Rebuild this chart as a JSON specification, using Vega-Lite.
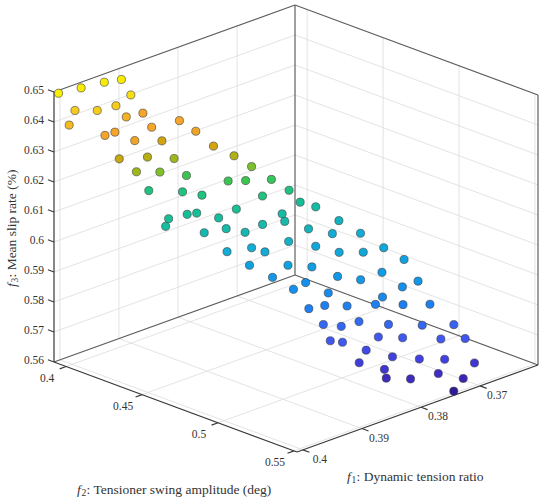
{
  "$schema": "https://vega.github.io/schema/vega-lite/v6.json",
  "width": 550,
  "height": 504,
  "autosize": {"type": "none"},
  "padding": 0,
  "background": "white",
  "config": {"view": {"stroke": null}},
  "datasets": {
    "pts": [
      {"f1": 0.4009, "f2": 0.3946, "f3": 0.65},
      {"f1": 0.3971, "f2": 0.3947, "f3": 0.6491},
      {"f1": 0.3938, "f2": 0.3971, "f3": 0.6491},
      {"f1": 0.3917, "f2": 0.4002, "f3": 0.6491},
      {"f1": 0.3926, "f2": 0.4099, "f3": 0.6464},
      {"f1": 0.3991, "f2": 0.3984, "f3": 0.6437},
      {"f1": 0.3972, "f2": 0.4057, "f3": 0.6437},
      {"f1": 0.3945, "f2": 0.4075, "f3": 0.6437},
      {"f1": 0.4009, "f2": 0.4016, "f3": 0.6407},
      {"f1": 0.3937, "f2": 0.4112, "f3": 0.6401},
      {"f1": 0.3905, "f2": 0.4097, "f3": 0.6388},
      {"f1": 0.3989, "f2": 0.4174, "f3": 0.6388},
      {"f1": 0.3973, "f2": 0.4177, "f3": 0.6388},
      {"f1": 0.393, "f2": 0.4252, "f3": 0.6388},
      {"f1": 0.3891, "f2": 0.4283, "f3": 0.6388},
      {"f1": 0.3898, "f2": 0.4418, "f3": 0.6383},
      {"f1": 0.3972, "f2": 0.4304, "f3": 0.6383},
      {"f1": 0.3934, "f2": 0.4335, "f3": 0.6361},
      {"f1": 0.3902, "f2": 0.455, "f3": 0.6361},
      {"f1": 0.4006, "f2": 0.4334, "f3": 0.6352},
      {"f1": 0.3968, "f2": 0.4372, "f3": 0.6338},
      {"f1": 0.3936, "f2": 0.4423, "f3": 0.632},
      {"f1": 0.3888, "f2": 0.4631, "f3": 0.6334},
      {"f1": 0.3999, "f2": 0.442, "f3": 0.632},
      {"f1": 0.3967, "f2": 0.445, "f3": 0.6302},
      {"f1": 0.3921, "f2": 0.4446, "f3": 0.6257},
      {"f1": 0.3873, "f2": 0.4688, "f3": 0.6298},
      {"f1": 0.3898, "f2": 0.4631, "f3": 0.6257},
      {"f1": 0.3882, "f2": 0.4684, "f3": 0.6257},
      {"f1": 0.3851, "f2": 0.4733, "f3": 0.6248},
      {"f1": 0.3836, "f2": 0.4791, "f3": 0.6212},
      {"f1": 0.3957, "f2": 0.4338, "f3": 0.6212},
      {"f1": 0.3931, "f2": 0.4459, "f3": 0.6212},
      {"f1": 0.3922, "f2": 0.4552, "f3": 0.6212},
      {"f1": 0.3872, "f2": 0.4756, "f3": 0.6212},
      {"f1": 0.3829, "f2": 0.4837, "f3": 0.6176},
      {"f1": 0.398, "f2": 0.4558, "f3": 0.6176},
      {"f1": 0.3994, "f2": 0.4593, "f3": 0.6167},
      {"f1": 0.3954, "f2": 0.4579, "f3": 0.6176},
      {"f1": 0.3943, "f2": 0.4599, "f3": 0.6176},
      {"f1": 0.3929, "f2": 0.4689, "f3": 0.6167},
      {"f1": 0.3906, "f2": 0.4716, "f3": 0.6185},
      {"f1": 0.3859, "f2": 0.4835, "f3": 0.6158},
      {"f1": 0.3868, "f2": 0.4887, "f3": 0.6149},
      {"f1": 0.3957, "f2": 0.4703, "f3": 0.614},
      {"f1": 0.3935, "f2": 0.4762, "f3": 0.6149},
      {"f1": 0.3921, "f2": 0.4832, "f3": 0.614},
      {"f1": 0.3894, "f2": 0.4842, "f3": 0.6149},
      {"f1": 0.3886, "f2": 0.4983, "f3": 0.6113},
      {"f1": 0.395, "f2": 0.4826, "f3": 0.6095},
      {"f1": 0.392, "f2": 0.4871, "f3": 0.6095},
      {"f1": 0.3918, "f2": 0.4951, "f3": 0.6095},
      {"f1": 0.3931, "f2": 0.49, "f3": 0.605},
      {"f1": 0.3898, "f2": 0.5025, "f3": 0.605},
      {"f1": 0.3908, "f2": 0.4962, "f3": 0.6005},
      {"f1": 0.3899, "f2": 0.5065, "f3": 0.5978},
      {"f1": 0.3814, "f2": 0.4881, "f3": 0.6158},
      {"f1": 0.3801, "f2": 0.4983, "f3": 0.6122},
      {"f1": 0.3846, "f2": 0.4958, "f3": 0.6122},
      {"f1": 0.3818, "f2": 0.5006, "f3": 0.6095},
      {"f1": 0.3793, "f2": 0.5094, "f3": 0.6095},
      {"f1": 0.3849, "f2": 0.5017, "f3": 0.6077},
      {"f1": 0.3843, "f2": 0.5148, "f3": 0.6077},
      {"f1": 0.3822, "f2": 0.5225, "f3": 0.6077},
      {"f1": 0.3794, "f2": 0.5251, "f3": 0.6077},
      {"f1": 0.3785, "f2": 0.535, "f3": 0.605},
      {"f1": 0.3875, "f2": 0.5093, "f3": 0.6041},
      {"f1": 0.385, "f2": 0.5165, "f3": 0.6005},
      {"f1": 0.3838, "f2": 0.527, "f3": 0.6005},
      {"f1": 0.3815, "f2": 0.5321, "f3": 0.6023},
      {"f1": 0.3792, "f2": 0.5469, "f3": 0.6005},
      {"f1": 0.3873, "f2": 0.5044, "f3": 0.5978},
      {"f1": 0.3865, "f2": 0.5162, "f3": 0.596},
      {"f1": 0.38, "f2": 0.5397, "f3": 0.5978},
      {"f1": 0.3828, "f2": 0.5375, "f3": 0.596},
      {"f1": 0.3893, "f2": 0.5143, "f3": 0.5924},
      {"f1": 0.3872, "f2": 0.5166, "f3": 0.5924},
      {"f1": 0.3854, "f2": 0.5243, "f3": 0.5924},
      {"f1": 0.3826, "f2": 0.5321, "f3": 0.5924},
      {"f1": 0.3803, "f2": 0.5413, "f3": 0.5924},
      {"f1": 0.3779, "f2": 0.5497, "f3": 0.5924},
      {"f1": 0.3861, "f2": 0.5114, "f3": 0.5843},
      {"f1": 0.385, "f2": 0.5189, "f3": 0.5843},
      {"f1": 0.383, "f2": 0.5228, "f3": 0.5852},
      {"f1": 0.3805, "f2": 0.5325, "f3": 0.5843},
      {"f1": 0.3778, "f2": 0.5442, "f3": 0.5843},
      {"f1": 0.3737, "f2": 0.5491, "f3": 0.5825},
      {"f1": 0.3849, "f2": 0.5113, "f3": 0.578},
      {"f1": 0.3842, "f2": 0.5166, "f3": 0.578},
      {"f1": 0.3799, "f2": 0.5235, "f3": 0.578},
      {"f1": 0.378, "f2": 0.5321, "f3": 0.578},
      {"f1": 0.375, "f2": 0.5456, "f3": 0.578},
      {"f1": 0.3722, "f2": 0.5507, "f3": 0.5771},
      {"f1": 0.3815, "f2": 0.5217, "f3": 0.5744},
      {"f1": 0.3789, "f2": 0.5289, "f3": 0.5717},
      {"f1": 0.3771, "f2": 0.5396, "f3": 0.5717},
      {"f1": 0.375, "f2": 0.5481, "f3": 0.5717},
      {"f1": 0.3708, "f2": 0.5514, "f3": 0.5681},
      {"f1": 0.3825, "f2": 0.521, "f3": 0.5708},
      {"f1": 0.38, "f2": 0.5279, "f3": 0.5681},
      {"f1": 0.38, "f2": 0.5291, "f3": 0.5654},
      {"f1": 0.3781, "f2": 0.5377, "f3": 0.5654},
      {"f1": 0.3751, "f2": 0.5443, "f3": 0.5663},
      {"f1": 0.3725, "f2": 0.5506, "f3": 0.564},
      {"f1": 0.3741, "f2": 0.5506, "f3": 0.5609}
    ],
    "lines": [
      {"kind": "grid", "a1": 0.401, "a2": 0.4, "a3": 0.56, "b1": 0.3602, "b2": 0.4, "b3": 0.56},
      {"kind": "grid", "a1": 0.401, "a2": 0.45, "a3": 0.56, "b1": 0.3602, "b2": 0.45, "b3": 0.56},
      {"kind": "grid", "a1": 0.401, "a2": 0.5, "a3": 0.56, "b1": 0.3602, "b2": 0.5, "b3": 0.56},
      {"kind": "grid", "a1": 0.401, "a2": 0.55, "a3": 0.56, "b1": 0.3602, "b2": 0.55, "b3": 0.56},
      {"kind": "grid", "a1": 0.37, "a2": 0.392, "a3": 0.56, "b1": 0.37, "b2": 0.552, "b3": 0.56},
      {"kind": "grid", "a1": 0.38, "a2": 0.392, "a3": 0.56, "b1": 0.38, "b2": 0.552, "b3": 0.56},
      {"kind": "grid", "a1": 0.39, "a2": 0.392, "a3": 0.56, "b1": 0.39, "b2": 0.552, "b3": 0.56},
      {"kind": "grid", "a1": 0.4, "a2": 0.392, "a3": 0.56, "b1": 0.4, "b2": 0.552, "b3": 0.56},
      {"kind": "grid", "a1": 0.37, "a2": 0.392, "a3": 0.56, "b1": 0.37, "b2": 0.392, "b3": 0.65},
      {"kind": "grid", "a1": 0.38, "a2": 0.392, "a3": 0.56, "b1": 0.38, "b2": 0.392, "b3": 0.65},
      {"kind": "grid", "a1": 0.39, "a2": 0.392, "a3": 0.56, "b1": 0.39, "b2": 0.392, "b3": 0.65},
      {"kind": "grid", "a1": 0.4, "a2": 0.392, "a3": 0.56, "b1": 0.4, "b2": 0.392, "b3": 0.65},
      {"kind": "grid", "a1": 0.3602, "a2": 0.4, "a3": 0.56, "b1": 0.3602, "b2": 0.4, "b3": 0.65},
      {"kind": "grid", "a1": 0.3602, "a2": 0.45, "a3": 0.56, "b1": 0.3602, "b2": 0.45, "b3": 0.65},
      {"kind": "grid", "a1": 0.3602, "a2": 0.5, "a3": 0.56, "b1": 0.3602, "b2": 0.5, "b3": 0.65},
      {"kind": "grid", "a1": 0.3602, "a2": 0.55, "a3": 0.56, "b1": 0.3602, "b2": 0.55, "b3": 0.65},
      {"kind": "grid", "a1": 0.401, "a2": 0.392, "a3": 0.57, "b1": 0.3602, "b2": 0.392, "b3": 0.57},
      {"kind": "grid", "a1": 0.401, "a2": 0.392, "a3": 0.58, "b1": 0.3602, "b2": 0.392, "b3": 0.58},
      {"kind": "grid", "a1": 0.401, "a2": 0.392, "a3": 0.59, "b1": 0.3602, "b2": 0.392, "b3": 0.59},
      {"kind": "grid", "a1": 0.401, "a2": 0.392, "a3": 0.6, "b1": 0.3602, "b2": 0.392, "b3": 0.6},
      {"kind": "grid", "a1": 0.401, "a2": 0.392, "a3": 0.61, "b1": 0.3602, "b2": 0.392, "b3": 0.61},
      {"kind": "grid", "a1": 0.401, "a2": 0.392, "a3": 0.62, "b1": 0.3602, "b2": 0.392, "b3": 0.62},
      {"kind": "grid", "a1": 0.401, "a2": 0.392, "a3": 0.63, "b1": 0.3602, "b2": 0.392, "b3": 0.63},
      {"kind": "grid", "a1": 0.401, "a2": 0.392, "a3": 0.64, "b1": 0.3602, "b2": 0.392, "b3": 0.64},
      {"kind": "grid", "a1": 0.3602, "a2": 0.392, "a3": 0.57, "b1": 0.3602, "b2": 0.552, "b3": 0.57},
      {"kind": "grid", "a1": 0.3602, "a2": 0.392, "a3": 0.58, "b1": 0.3602, "b2": 0.552, "b3": 0.58},
      {"kind": "grid", "a1": 0.3602, "a2": 0.392, "a3": 0.59, "b1": 0.3602, "b2": 0.552, "b3": 0.59},
      {"kind": "grid", "a1": 0.3602, "a2": 0.392, "a3": 0.6, "b1": 0.3602, "b2": 0.552, "b3": 0.6},
      {"kind": "grid", "a1": 0.3602, "a2": 0.392, "a3": 0.61, "b1": 0.3602, "b2": 0.552, "b3": 0.61},
      {"kind": "grid", "a1": 0.3602, "a2": 0.392, "a3": 0.62, "b1": 0.3602, "b2": 0.552, "b3": 0.62},
      {"kind": "grid", "a1": 0.3602, "a2": 0.392, "a3": 0.63, "b1": 0.3602, "b2": 0.552, "b3": 0.63},
      {"kind": "grid", "a1": 0.3602, "a2": 0.392, "a3": 0.64, "b1": 0.3602, "b2": 0.552, "b3": 0.64},
      {"kind": "box", "a1": 0.401, "a2": 0.392, "a3": 0.65, "b1": 0.3602, "b2": 0.392, "b3": 0.65},
      {"kind": "box", "a1": 0.3602, "a2": 0.392, "a3": 0.65, "b1": 0.3602, "b2": 0.552, "b3": 0.65},
      {"kind": "box", "a1": 0.3602, "a2": 0.392, "a3": 0.56, "b1": 0.3602, "b2": 0.392, "b3": 0.65},
      {"kind": "box", "a1": 0.3602, "a2": 0.552, "a3": 0.56, "b1": 0.3602, "b2": 0.552, "b3": 0.65},
      {"kind": "box", "a1": 0.401, "a2": 0.392, "a3": 0.56, "b1": 0.3602, "b2": 0.392, "b3": 0.56},
      {"kind": "box", "a1": 0.3602, "a2": 0.392, "a3": 0.56, "b1": 0.3602, "b2": 0.552, "b3": 0.56},
      {"kind": "zaxis", "a1": 0.401, "a2": 0.392, "a3": 0.56, "b1": 0.401, "b2": 0.392, "b3": 0.65},
      {"kind": "axis", "a1": 0.401, "a2": 0.392, "a3": 0.56, "b1": 0.401, "b2": 0.552, "b3": 0.56},
      {"kind": "axis", "a1": 0.401, "a2": 0.552, "a3": 0.56, "b1": 0.3602, "b2": 0.552, "b3": 0.56},
      {"kind": "axis", "a1": 0.401, "a2": 0.392, "a3": 0.56, "b1": 0.401, "b2": 0.388, "b3": 0.56},
      {"kind": "axis", "a1": 0.401, "a2": 0.392, "a3": 0.57, "b1": 0.401, "b2": 0.388, "b3": 0.57},
      {"kind": "axis", "a1": 0.401, "a2": 0.392, "a3": 0.58, "b1": 0.401, "b2": 0.388, "b3": 0.58},
      {"kind": "axis", "a1": 0.401, "a2": 0.392, "a3": 0.59, "b1": 0.401, "b2": 0.388, "b3": 0.59},
      {"kind": "axis", "a1": 0.401, "a2": 0.392, "a3": 0.6, "b1": 0.401, "b2": 0.388, "b3": 0.6},
      {"kind": "axis", "a1": 0.401, "a2": 0.392, "a3": 0.61, "b1": 0.401, "b2": 0.388, "b3": 0.61},
      {"kind": "axis", "a1": 0.401, "a2": 0.392, "a3": 0.62, "b1": 0.401, "b2": 0.388, "b3": 0.62},
      {"kind": "axis", "a1": 0.401, "a2": 0.392, "a3": 0.63, "b1": 0.401, "b2": 0.388, "b3": 0.63},
      {"kind": "axis", "a1": 0.401, "a2": 0.392, "a3": 0.64, "b1": 0.401, "b2": 0.388, "b3": 0.64},
      {"kind": "axis", "a1": 0.401, "a2": 0.392, "a3": 0.65, "b1": 0.401, "b2": 0.388, "b3": 0.65},
      {"kind": "axis", "a1": 0.401, "a2": 0.4, "a3": 0.56, "b1": 0.4021, "b2": 0.4, "b3": 0.56},
      {"kind": "axis", "a1": 0.401, "a2": 0.45, "a3": 0.56, "b1": 0.4021, "b2": 0.45, "b3": 0.56},
      {"kind": "axis", "a1": 0.401, "a2": 0.5, "a3": 0.56, "b1": 0.4021, "b2": 0.5, "b3": 0.56},
      {"kind": "axis", "a1": 0.401, "a2": 0.55, "a3": 0.56, "b1": 0.4021, "b2": 0.55, "b3": 0.56},
      {"kind": "axis", "a1": 0.37, "a2": 0.552, "a3": 0.56, "b1": 0.37, "b2": 0.5563, "b3": 0.56},
      {"kind": "axis", "a1": 0.38, "a2": 0.552, "a3": 0.56, "b1": 0.38, "b2": 0.5563, "b3": 0.56},
      {"kind": "axis", "a1": 0.39, "a2": 0.552, "a3": 0.56, "b1": 0.39, "b2": 0.5563, "b3": 0.56},
      {"kind": "axis", "a1": 0.4, "a2": 0.552, "a3": 0.56, "b1": 0.4, "b2": 0.5563, "b3": 0.56}
    ],
    "labels": [
      {"axis": "z", "f1": 0.401, "f2": 0.392, "f3": 0.56, "label": "0.56"},
      {"axis": "z", "f1": 0.401, "f2": 0.392, "f3": 0.57, "label": "0.57"},
      {"axis": "z", "f1": 0.401, "f2": 0.392, "f3": 0.58, "label": "0.58"},
      {"axis": "z", "f1": 0.401, "f2": 0.392, "f3": 0.59, "label": "0.59"},
      {"axis": "z", "f1": 0.401, "f2": 0.392, "f3": 0.6, "label": "0.6"},
      {"axis": "z", "f1": 0.401, "f2": 0.392, "f3": 0.61, "label": "0.61"},
      {"axis": "z", "f1": 0.401, "f2": 0.392, "f3": 0.62, "label": "0.62"},
      {"axis": "z", "f1": 0.401, "f2": 0.392, "f3": 0.63, "label": "0.63"},
      {"axis": "z", "f1": 0.401, "f2": 0.392, "f3": 0.64, "label": "0.64"},
      {"axis": "z", "f1": 0.401, "f2": 0.392, "f3": 0.65, "label": "0.65"},
      {"axis": "f2", "f1": 0.401, "f2": 0.4, "f3": 0.56, "label": "0.4"},
      {"axis": "f2", "f1": 0.401, "f2": 0.45, "f3": 0.56, "label": "0.45"},
      {"axis": "f2", "f1": 0.401, "f2": 0.5, "f3": 0.56, "label": "0.5"},
      {"axis": "f2", "f1": 0.401, "f2": 0.55, "f3": 0.56, "label": "0.55"},
      {"axis": "f1", "f1": 0.37, "f2": 0.552, "f3": 0.56, "label": "0.37"},
      {"axis": "f1", "f1": 0.38, "f2": 0.552, "f3": 0.56, "label": "0.38"},
      {"axis": "f1", "f1": 0.39, "f2": 0.552, "f3": 0.56, "label": "0.39"},
      {"axis": "f1", "f1": 0.4, "f2": 0.552, "f3": 0.56, "label": "0.4"},
      {"axis": "t3", "f1": 0.401, "f2": 0.392, "f3": 0.585, "sub": "3", "label": ": Mean slip rate (%)"},
      {"axis": "t2", "f1": 0.401, "f2": 0.472, "f3": 0.56, "sub": "2", "label": ": Tensioner swing amplitude (deg)"},
      {"axis": "t1", "f1": 0.3806, "f2": 0.552, "f3": 0.56, "sub": "1", "label": ": Dynamic tension ratio"}
    ]
  },
  "layer": [
    {
      "data": {"name": "lines"},
      "transform": [
        {"filter": "datum.kind == 'grid'"},
        {"calculate": "243*(datum.a2-0.392)/0.16 + 241*(0.401-datum.a1)/0.0408", "as": "xa"},
        {"calculate": "270*(datum.a3-0.56)/0.09 + 87*(0.401-datum.a1)/0.0408 - 90*(datum.a2-0.392)/0.16", "as": "ya"},
        {"calculate": "243*(datum.b2-0.392)/0.16 + 241*(0.401-datum.b1)/0.0408", "as": "xb"},
        {"calculate": "270*(datum.b3-0.56)/0.09 + 87*(0.401-datum.b1)/0.0408 - 90*(datum.b2-0.392)/0.16", "as": "yb"}
      ],
      "mark": {"type": "rule", "color": "#dcdcdc", "strokeWidth": 0.8},
      "encoding": {
        "x": {"field": "xa", "type": "quantitative", "scale": {"domain": [-54, 496], "nice": false, "zero": false}, "axis": null},
        "y": {"field": "ya", "type": "quantitative", "scale": {"domain": [-142, 362], "nice": false, "zero": false}, "axis": null},
        "x2": {"field": "xb"},
        "y2": {"field": "yb"}
      }
    },
    {
      "data": {"name": "lines"},
      "transform": [
        {"filter": "datum.kind == 'box'"},
        {"calculate": "243*(datum.a2-0.392)/0.16 + 241*(0.401-datum.a1)/0.0408", "as": "xa"},
        {"calculate": "270*(datum.a3-0.56)/0.09 + 87*(0.401-datum.a1)/0.0408 - 90*(datum.a2-0.392)/0.16", "as": "ya"},
        {"calculate": "243*(datum.b2-0.392)/0.16 + 241*(0.401-datum.b1)/0.0408", "as": "xb"},
        {"calculate": "270*(datum.b3-0.56)/0.09 + 87*(0.401-datum.b1)/0.0408 - 90*(datum.b2-0.392)/0.16", "as": "yb"}
      ],
      "mark": {"type": "rule", "color": "#5e5e5e", "strokeWidth": 1.2},
      "encoding": {
        "x": {"field": "xa", "type": "quantitative", "scale": {"domain": [-54, 496], "nice": false, "zero": false}, "axis": null},
        "y": {"field": "ya", "type": "quantitative", "scale": {"domain": [-142, 362], "nice": false, "zero": false}, "axis": null},
        "x2": {"field": "xb"},
        "y2": {"field": "yb"}
      }
    },
    {
      "data": {"name": "lines"},
      "transform": [
        {"filter": "datum.kind == 'zaxis'"},
        {"calculate": "243*(datum.a2-0.392)/0.16 + 241*(0.401-datum.a1)/0.0408", "as": "xa"},
        {"calculate": "270*(datum.a3-0.56)/0.09 + 87*(0.401-datum.a1)/0.0408 - 90*(datum.a2-0.392)/0.16", "as": "ya"},
        {"calculate": "243*(datum.b2-0.392)/0.16 + 241*(0.401-datum.b1)/0.0408", "as": "xb"},
        {"calculate": "270*(datum.b3-0.56)/0.09 + 87*(0.401-datum.b1)/0.0408 - 90*(datum.b2-0.392)/0.16", "as": "yb"}
      ],
      "mark": {"type": "rule", "color": "#6a6a6a", "strokeWidth": 1.6},
      "encoding": {
        "x": {"field": "xa", "type": "quantitative", "scale": {"domain": [-54, 496], "nice": false, "zero": false}, "axis": null},
        "y": {"field": "ya", "type": "quantitative", "scale": {"domain": [-142, 362], "nice": false, "zero": false}, "axis": null},
        "x2": {"field": "xb"},
        "y2": {"field": "yb"}
      }
    },
    {
      "data": {"name": "lines"},
      "transform": [
        {"filter": "datum.kind == 'axis'"},
        {"calculate": "243*(datum.a2-0.392)/0.16 + 241*(0.401-datum.a1)/0.0408", "as": "xa"},
        {"calculate": "270*(datum.a3-0.56)/0.09 + 87*(0.401-datum.a1)/0.0408 - 90*(datum.a2-0.392)/0.16", "as": "ya"},
        {"calculate": "243*(datum.b2-0.392)/0.16 + 241*(0.401-datum.b1)/0.0408", "as": "xb"},
        {"calculate": "270*(datum.b3-0.56)/0.09 + 87*(0.401-datum.b1)/0.0408 - 90*(datum.b2-0.392)/0.16", "as": "yb"}
      ],
      "mark": {"type": "rule", "color": "#3a3a3a", "strokeWidth": 1.2},
      "encoding": {
        "x": {"field": "xa", "type": "quantitative", "scale": {"domain": [-54, 496], "nice": false, "zero": false}, "axis": null},
        "y": {"field": "ya", "type": "quantitative", "scale": {"domain": [-142, 362], "nice": false, "zero": false}, "axis": null},
        "x2": {"field": "xb"},
        "y2": {"field": "yb"}
      }
    },
    {
      "data": {"name": "pts"},
      "transform": [
        {"calculate": "243*(datum.f2-0.392)/0.16 + 241*(0.401-datum.f1)/0.0408", "as": "px"},
        {"calculate": "270*(datum.f3-0.56)/0.09 + 87*(0.401-datum.f1)/0.0408 - 90*(datum.f2-0.392)/0.16", "as": "py"}
      ],
      "mark": {"type": "circle", "size": 66, "opacity": 1, "stroke": "#3c3c3c", "strokeWidth": 0.6},
      "encoding": {
        "x": {"field": "px", "type": "quantitative", "scale": {"domain": [-54, 496], "nice": false, "zero": false}, "axis": null},
        "y": {"field": "py", "type": "quantitative", "scale": {"domain": [-142, 362], "nice": false, "zero": false}, "axis": null},
        "fill": {
          "field": "f3",
          "type": "quantitative",
          "legend": null,
          "scale": {
            "interpolate": "rgb",
            "domain": [0.56, 0.5645, 0.5681, 0.5717, 0.578, 0.5843, 0.5924, 0.5978, 0.605, 0.6095, 0.614, 0.6176, 0.6212, 0.6257, 0.6302, 0.6329, 0.63605, 0.63875, 0.641, 0.6437, 0.6464, 0.65],
            "range": ["#2c1890", "#3c28b8", "#4034d2", "#4240e0", "#4058f0", "#3468f2", "#1e80f0", "#1590ec", "#0fa2e0", "#12acd4", "#14b8b0", "#16be98", "#20c280", "#3cc452", "#80c028", "#acb414", "#d0a410", "#f4a42a", "#f5bc22", "#f6cc1c", "#f6de12", "#f8f000"]
          }
        }
      }
    },
    {
      "data": {"name": "labels"},
      "transform": [
        {"filter": "datum.axis == 'z'"},
        {"calculate": "243*(datum.f2-0.392)/0.16 + 241*(0.401-datum.f1)/0.0408", "as": "px"},
        {"calculate": "270*(datum.f3-0.56)/0.09 + 87*(0.401-datum.f1)/0.0408 - 90*(datum.f2-0.392)/0.16", "as": "py"}
      ],
      "mark": {"type": "text", "align": "right", "baseline": "middle", "dx": -10, "dy": -1, "font": "Liberation Serif", "fontSize": 11.5, "color": "#333333"},
      "encoding": {
        "x": {"field": "px", "type": "quantitative", "scale": {"domain": [-54, 496], "nice": false, "zero": false}, "axis": null},
        "y": {"field": "py", "type": "quantitative", "scale": {"domain": [-142, 362], "nice": false, "zero": false}, "axis": null},
        "text": {"field": "label"}
      }
    },
    {
      "data": {"name": "labels"},
      "transform": [
        {"filter": "datum.axis == 'f2'"},
        {"calculate": "243*(datum.f2-0.392)/0.16 + 241*(0.401-datum.f1)/0.0408", "as": "px"},
        {"calculate": "270*(datum.f3-0.56)/0.09 + 87*(0.401-datum.f1)/0.0408 - 90*(datum.f2-0.392)/0.16", "as": "py"}
      ],
      "mark": {"type": "text", "align": "center", "baseline": "middle", "dx": -19, "dy": 12, "font": "Liberation Serif", "fontSize": 11.5, "color": "#333333"},
      "encoding": {
        "x": {"field": "px", "type": "quantitative", "scale": {"domain": [-54, 496], "nice": false, "zero": false}, "axis": null},
        "y": {"field": "py", "type": "quantitative", "scale": {"domain": [-142, 362], "nice": false, "zero": false}, "axis": null},
        "text": {"field": "label"}
      }
    },
    {
      "data": {"name": "labels"},
      "transform": [
        {"filter": "datum.axis == 'f1'"},
        {"calculate": "243*(datum.f2-0.392)/0.16 + 241*(0.401-datum.f1)/0.0408", "as": "px"},
        {"calculate": "270*(datum.f3-0.56)/0.09 + 87*(0.401-datum.f1)/0.0408 - 90*(datum.f2-0.392)/0.16", "as": "py"}
      ],
      "mark": {"type": "text", "align": "center", "baseline": "middle", "dx": 17, "dy": 10, "font": "Liberation Serif", "fontSize": 11.5, "color": "#333333"},
      "encoding": {
        "x": {"field": "px", "type": "quantitative", "scale": {"domain": [-54, 496], "nice": false, "zero": false}, "axis": null},
        "y": {"field": "py", "type": "quantitative", "scale": {"domain": [-142, 362], "nice": false, "zero": false}, "axis": null},
        "text": {"field": "label"}
      }
    },
    {
      "data": {"name": "labels"},
      "transform": [
        {"filter": "datum.axis == 't3'"},
        {"calculate": "243*(datum.f2-0.392)/0.16 + 241*(0.401-datum.f1)/0.0408", "as": "px"},
        {"calculate": "270*(datum.f3-0.56)/0.09 + 87*(0.401-datum.f1)/0.0408 - 90*(datum.f2-0.392)/0.16", "as": "py"}
      ],
      "layer": [
        {"mark": {"type": "text", "text": "f", "fontStyle": "italic", "align": "left", "baseline": "middle", "angle": 270, "dx": 0, "dy": -42, "font": "Liberation Serif", "fontSize": 13.5, "color": "#333333"}},
        {"mark": {"type": "text", "align": "left", "baseline": "middle", "angle": 270, "dx": 4.5, "dy": -39, "font": "Liberation Serif", "fontSize": 9.5, "color": "#333333"}, "encoding": {"text": {"field": "sub"}}},
        {"mark": {"type": "text", "align": "left", "baseline": "middle", "angle": 270, "dx": 9.5, "dy": -42, "font": "Liberation Serif", "fontSize": 13.5, "color": "#333333"}, "encoding": {"text": {"field": "label"}}}
      ],
      "encoding": {
        "x": {"field": "px", "type": "quantitative", "scale": {"domain": [-54, 496], "nice": false, "zero": false}, "axis": null},
        "y": {"field": "py", "type": "quantitative", "scale": {"domain": [-142, 362], "nice": false, "zero": false}, "axis": null}
      }
    },
    {
      "data": {"name": "labels"},
      "transform": [
        {"filter": "datum.axis == 't2'"},
        {"calculate": "243*(datum.f2-0.392)/0.16 + 241*(0.401-datum.f1)/0.0408", "as": "px"},
        {"calculate": "270*(datum.f3-0.56)/0.09 + 87*(0.401-datum.f1)/0.0408 - 90*(datum.f2-0.392)/0.16", "as": "py"}
      ],
      "layer": [
        {"mark": {"type": "text", "text": "f", "fontStyle": "italic", "align": "left", "baseline": "middle", "dx": -98.5, "dy": 83, "font": "Liberation Serif", "fontSize": 13.5, "color": "#333333"}},
        {"mark": {"type": "text", "align": "left", "baseline": "middle", "dx": -94, "dy": 86, "font": "Liberation Serif", "fontSize": 9.5, "color": "#333333"}, "encoding": {"text": {"field": "sub"}}},
        {"mark": {"type": "text", "align": "left", "baseline": "middle", "dx": -89, "dy": 83, "font": "Liberation Serif", "fontSize": 13.5, "color": "#333333"}, "encoding": {"text": {"field": "label"}}}
      ],
      "encoding": {
        "x": {"field": "px", "type": "quantitative", "scale": {"domain": [-54, 496], "nice": false, "zero": false}, "axis": null},
        "y": {"field": "py", "type": "quantitative", "scale": {"domain": [-142, 362], "nice": false, "zero": false}, "axis": null}
      }
    },
    {
      "data": {"name": "labels"},
      "transform": [
        {"filter": "datum.axis == 't1'"},
        {"calculate": "243*(datum.f2-0.392)/0.16 + 241*(0.401-datum.f1)/0.0408", "as": "px"},
        {"calculate": "270*(datum.f3-0.56)/0.09 + 87*(0.401-datum.f1)/0.0408 - 90*(datum.f2-0.392)/0.16", "as": "py"}
      ],
      "layer": [
        {"mark": {"type": "text", "text": "f", "fontStyle": "italic", "align": "left", "baseline": "middle", "dx": -70.5, "dy": 68, "font": "Liberation Serif", "fontSize": 13.5, "color": "#333333"}},
        {"mark": {"type": "text", "align": "left", "baseline": "middle", "dx": -66, "dy": 71, "font": "Liberation Serif", "fontSize": 9.5, "color": "#333333"}, "encoding": {"text": {"field": "sub"}}},
        {"mark": {"type": "text", "align": "left", "baseline": "middle", "dx": -61, "dy": 68, "font": "Liberation Serif", "fontSize": 13.5, "color": "#333333"}, "encoding": {"text": {"field": "label"}}}
      ],
      "encoding": {
        "x": {"field": "px", "type": "quantitative", "scale": {"domain": [-54, 496], "nice": false, "zero": false}, "axis": null},
        "y": {"field": "py", "type": "quantitative", "scale": {"domain": [-142, 362], "nice": false, "zero": false}, "axis": null}
      }
    }
  ]
}
